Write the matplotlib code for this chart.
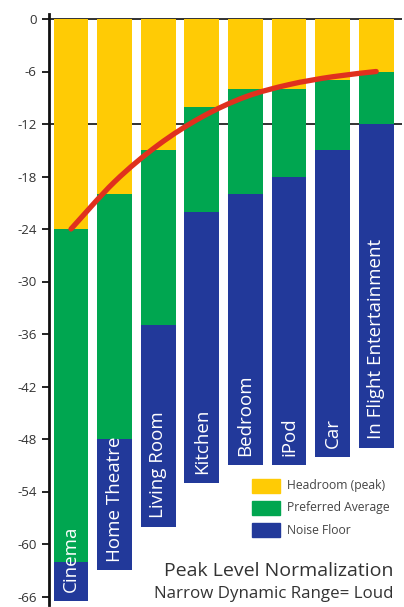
import matplotlib
matplotlib.use("Agg")
import matplotlib.pyplot as plt
from matplotlib.path import Path
from matplotlib.patches import PathPatch, Rectangle
import numpy as np

categories = ["Cinema", "Home Theatre", "Living Room", "Kitchen", "Bedroom",
              "iPod", "Car", "In Flight Entertainment"]
headroom_top = [0, 0, 0, 0, 0, 0, 0, 0]
preferred_top = [-24, -20, -15, -10, -8, -8, -7, -6]
noise_top = [-62, -48, -35, -22, -20, -18, -15, -12]
bar_bottom = [-66.5, -63, -58, -53, -51, -51, -50, -49]
peak_curve = [-24, -18.6, -14.4, -11.2, -8.9, -7.5, -6.6, -6.0]
yticks = [0, -6, -12, -18, -24, -30, -36, -42, -48, -54, -60, -66]
legend_labels = ["Headroom (peak)", "Preferred Average", "Noise Floor"]
title = "Peak Level Normalization"
subtitle = "Narrow Dynamic Range= Loud"

YELLOW = "#FFCB05"
GREEN = "#00A650"
BLUE = "#22399A"
RED = "#E0301E"
TXT = "#333333"

plt.rcParams["font.family"] = ["Open Sans", "DejaVu Sans"]

W, H = 404, 607
fig = plt.figure(figsize=(W / 100, H / 100), dpi=100)
left_px, right_px, top_px, bot_px = 49, 402, 14, 605
ax = fig.add_axes([left_px / W, 1 - bot_px / H, (right_px - left_px) / W, (bot_px - top_px) / H])

pitch = 43.6
c0 = 71
ax.set_xlim((left_px - c0) / pitch, (right_px - c0) / pitch)
y0px = 19
ppd = 8.75
ax.set_ylim(-(bot_px - y0px) / ppd, (y0px - top_px) / ppd)

x = np.arange(len(categories))
bw = 0.8
# reference lines behind bars
for yv in (0, -12):
    ax.axhline(yv, color="#222222", lw=1.3, zorder=1)

ax.bar(x, np.array(headroom_top) - np.array(preferred_top), bottom=preferred_top,
       width=bw, color=YELLOW, zorder=2, linewidth=0)
ax.bar(x, np.array(preferred_top) - np.array(noise_top), bottom=noise_top,
       width=bw, color=GREEN, zorder=2, linewidth=0)
ax.bar(x, np.array(noise_top) - np.array(bar_bottom), bottom=bar_bottom,
       width=bw, color=BLUE, zorder=2, linewidth=0)

for xi, name, b in zip(x, categories, bar_bottom):
    ax.text(xi, b + 1.0, name, rotation=90, ha="center", va="bottom",
            color="white", fontsize=13.5, zorder=4)

# smooth curve (Catmull-Rom rendered as Bezier segments)
pts = np.column_stack([x, peak_curve]).astype(float)
verts = [tuple(pts[0])]
codes = [Path.MOVETO]
n = len(pts)
for i in range(n - 1):
    p0 = pts[i - 1] if i > 0 else pts[i]
    p1 = pts[i]
    p2 = pts[i + 1]
    p3 = pts[i + 2] if i + 2 < n else pts[i + 1]
    cp1 = p1 + (p2 - p0) / 6
    cp2 = p2 - (p3 - p1) / 6
    verts += [tuple(cp1), tuple(cp2), tuple(p2)]
    codes += [Path.CURVE4] * 3
ax.add_patch(PathPatch(Path(verts, codes), fill=False, edgecolor=RED, lw=3.8,
                       capstyle="round", zorder=3))

for s in ("top", "right", "bottom"):
    ax.spines[s].set_visible(False)
ax.spines["left"].set_linewidth(2)
ax.spines["left"].set_color("#111111")
ax.set_xticks([])
ax.set_yticks(yticks)
ax.set_yticklabels([str(v) for v in yticks])
ax.tick_params(axis="y", length=5, width=1.3, color="#111111", pad=4,
               labelsize=9.5, labelcolor=TXT)

# legend
lx, lw_, lh = 252, 28, 14
rows = [486, 508, 530]
for col, lab, ry in zip([YELLOW, GREEN, BLUE], legend_labels, rows):
    fig.patches.append(Rectangle((lx / W, 1 - (ry + lh / 2) / H), lw_ / W, lh / H,
                                 transform=fig.transFigure, color=col, figure=fig))
    fig.text(287 / W, 1 - ry / H, lab, ha="left", va="center", fontsize=8.7, color="#444444")

fig.text(393 / W, 1 - 576 / H, title, ha="right", va="baseline", fontsize=14, color=TXT)
fig.text(393 / W, 1 - 598 / H, subtitle, ha="right", va="baseline", fontsize=12.2, color=TXT)

fig.savefig("out.png", dpi=100)
